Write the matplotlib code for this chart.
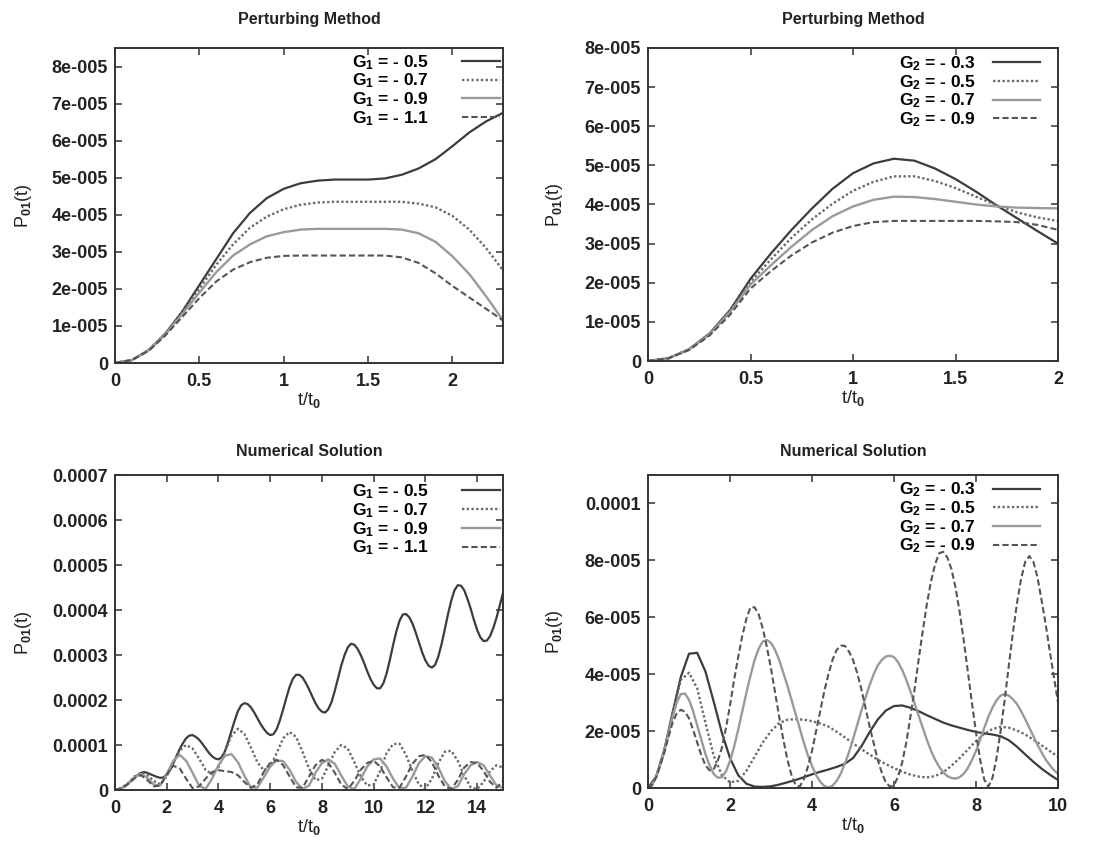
import matplotlib
matplotlib.use("Agg")
import matplotlib.pyplot as plt
from matplotlib import font_manager

# ---------------- data (probabilities) ----------------
# Top-left: Perturbing Method, G1 series (values in units of 1e-5)
t_tl = [0, 0.1, 0.2, 0.3, 0.4, 0.5, 0.6, 0.7, 0.8, 0.9, 1.0, 1.1, 1.2, 1.3, 1.4, 1.5,
        1.6, 1.7, 1.8, 1.9, 2.0, 2.1, 2.2, 2.3]
tl_g1_05 = [0, 0.08, 0.35, 0.8, 1.4, 2.1, 2.8, 3.5, 4.05, 4.45, 4.7, 4.85, 4.92, 4.95, 4.95,
            4.95, 4.98, 5.08, 5.25, 5.5, 5.85, 6.22, 6.52, 6.75]
tl_g1_07 = [0, 0.08, 0.35, 0.8, 1.38, 2.0, 2.65, 3.2, 3.65, 3.95, 4.15, 4.27, 4.33, 4.35, 4.35,
            4.35, 4.35, 4.35, 4.3, 4.2, 3.97, 3.6, 3.1, 2.5]
tl_g1_09 = [0, 0.08, 0.34, 0.78, 1.33, 1.9, 2.45, 2.9, 3.2, 3.42, 3.53, 3.6, 3.62, 3.62, 3.62,
            3.62, 3.62, 3.6, 3.5, 3.27, 2.88, 2.4, 1.8, 1.15]
tl_g1_11 = [0, 0.08, 0.33, 0.75, 1.25, 1.75, 2.2, 2.52, 2.72, 2.84, 2.89, 2.9, 2.9, 2.9, 2.9,
            2.9, 2.9, 2.85, 2.7, 2.42, 2.08, 1.77, 1.46, 1.15]

# Top-right: Perturbing Method, G2 series (units of 1e-5)
t_tr = [0, 0.1, 0.2, 0.3, 0.4, 0.5, 0.6, 0.7, 0.8, 0.9, 1.0, 1.1, 1.2, 1.3, 1.4, 1.5,
        1.6, 1.7, 1.8, 1.9, 2.0]
tr_g2_03 = [0, 0.07, 0.3, 0.7, 1.3, 2.1, 2.75, 3.35, 3.9, 4.4, 4.8, 5.05, 5.17, 5.12, 4.92,
            4.65, 4.33, 3.98, 3.65, 3.32, 3.0]
tr_g2_05 = [0, 0.07, 0.3, 0.7, 1.28, 2.02, 2.6, 3.15, 3.62, 4.02, 4.35, 4.58, 4.72, 4.72, 4.6,
            4.42, 4.2, 3.98, 3.8, 3.67, 3.58]
tr_g2_07 = [0, 0.07, 0.29, 0.68, 1.25, 1.95, 2.45, 2.92, 3.35, 3.7, 3.95, 4.12, 4.2, 4.19, 4.14,
            4.07, 4.0, 3.95, 3.92, 3.91, 3.9]
tr_g2_09 = [0, 0.07, 0.28, 0.65, 1.18, 1.85, 2.3, 2.7, 3.03, 3.28, 3.45, 3.55, 3.58, 3.58, 3.58,
            3.58, 3.58, 3.57, 3.55, 3.48, 3.35]

# Bottom-left: Numerical Solution, G1 series (units of 1e-4)
t_bl_fine = [0, 0.125, 0.25, 0.375, 0.5, 0.625, 0.75, 0.875, 1.0, 1.125, 1.25, 1.375, 1.5,
             1.625, 1.75, 1.875, 2.0, 2.125, 2.25, 2.375, 2.5, 2.625, 2.75, 2.875, 3.0, 3.125,
             3.25, 3.375, 3.5, 3.625, 3.75, 3.875, 4.0, 4.125, 4.25, 4.375, 4.5, 4.625, 4.75,
             4.875, 5.0, 5.125, 5.25, 5.375, 5.5, 5.625, 5.75, 5.875, 6.0, 6.125, 6.25, 6.375,
             6.5, 6.625, 6.75, 6.875, 7.0, 7.125, 7.25, 7.375, 7.5, 7.625, 7.75, 7.875, 8.0,
             8.125, 8.25, 8.375, 8.5, 8.625, 8.75, 8.875, 9.0, 9.125, 9.25, 9.375, 9.5, 9.625,
             9.75, 9.875, 10.0, 10.125, 10.25, 10.375, 10.5, 10.625, 10.75, 10.875, 11.0, 11.125,
             11.25, 11.375, 11.5, 11.625, 11.75, 11.875, 12.0, 12.125, 12.25, 12.375, 12.5,
             12.625, 12.75, 12.875, 13.0, 13.125, 13.25, 13.375, 13.5, 13.625, 13.75, 13.875,
             14.0, 14.125, 14.25, 14.375, 14.5, 14.625, 14.75, 14.875, 15.0]
bl_g1_05 = [0, 0.01, 0.04, 0.08, 0.14, 0.2, 0.27, 0.33, 0.38, 0.4, 0.38, 0.35, 0.32, 0.29, 0.27,
            0.28, 0.34, 0.44, 0.59, 0.75, 0.91, 1.04, 1.15, 1.21, 1.22, 1.18, 1.12, 1.03, 0.93,
            0.83, 0.75, 0.7, 0.68, 0.73, 0.86, 1.07, 1.31, 1.54, 1.75, 1.88, 1.93, 1.91, 1.84,
            1.73, 1.6, 1.47, 1.36, 1.27, 1.22, 1.24, 1.35, 1.55, 1.79, 2.05, 2.29, 2.47, 2.56,
            2.56, 2.5, 2.38, 2.24, 2.08, 1.93, 1.81, 1.74, 1.72, 1.8, 1.96, 2.21, 2.49, 2.77, 3.0,
            3.17, 3.25, 3.23, 3.14, 3.0, 2.83, 2.64, 2.47, 2.34, 2.26, 2.26, 2.37, 2.59, 2.89,
            3.22, 3.52, 3.76, 3.9, 3.91, 3.84, 3.7, 3.5, 3.28, 3.06, 2.88, 2.76, 2.72, 2.78, 2.97,
            3.24, 3.57, 3.91, 4.21, 4.44, 4.55, 4.54, 4.44, 4.25, 4.03, 3.78, 3.56, 3.39, 3.31,
            3.32, 3.42, 3.6, 3.83, 4.1, 4.38]

t_bl = [0, 0.25, 0.5, 0.75, 1.0, 1.25, 1.5, 1.75, 2.0, 2.25, 2.5, 2.75, 3.0, 3.25, 3.5, 3.75,
        4.0, 4.25, 4.5, 4.75, 5.0, 5.25, 5.5, 5.75, 6.0, 6.25, 6.5, 6.75, 7.0, 7.25, 7.5, 7.75,
        8.0, 8.25, 8.5, 8.75, 9.0, 9.25, 9.5, 9.75, 10.0, 10.25, 10.5, 10.75, 11.0, 11.25, 11.5,
        11.75, 12.0, 12.25, 12.5, 12.75, 13.0, 13.25, 13.5, 13.75, 14.0, 14.25, 14.5, 14.75, 15.0]
bl_g1_07 = [0, 0.04, 0.15, 0.3, 0.38, 0.33, 0.2, 0.13, 0.3, 0.6, 0.88, 1.0, 0.92, 0.7, 0.45,
            0.35, 0.5, 0.85, 1.2, 1.36, 1.25, 0.95, 0.62, 0.44, 0.52, 0.82, 1.15, 1.29, 1.18, 0.85,
            0.48, 0.22, 0.25, 0.55, 0.85, 1.0, 0.92, 0.62, 0.3, 0.1, 0.12, 0.42, 0.82, 1.02, 1.03,
            0.78, 0.42, 0.12, 0.03, 0.25, 0.6, 0.85, 0.87, 0.65, 0.32, 0.06, 0.02, 0.18, 0.42,
            0.55, 0.5]
bl_g1_09 = [0, 0.04, 0.14, 0.28, 0.36, 0.27, 0.12, 0.1, 0.35, 0.65, 0.78, 0.65, 0.38, 0.1, 0.02,
            0.25, 0.55, 0.76, 0.8, 0.62, 0.32, 0.06, 0.05, 0.28, 0.52, 0.66, 0.64, 0.45, 0.18,
            0.02, 0.1, 0.38, 0.6, 0.68, 0.58, 0.32, 0.08, 0.02, 0.25, 0.52, 0.68, 0.7, 0.52, 0.25,
            0.04, 0.05, 0.3, 0.6, 0.75, 0.72, 0.5, 0.2, 0.02, 0.08, 0.35, 0.55, 0.62, 0.55, 0.32,
            0.1, 0.05]
bl_g1_11 = [0, 0.04, 0.13, 0.26, 0.33, 0.22, 0.08, 0.1, 0.35, 0.54, 0.48, 0.25, 0.04, 0.08, 0.25,
            0.4, 0.44, 0.42, 0.4, 0.33, 0.18, 0.05, 0.12, 0.4, 0.6, 0.67, 0.55, 0.3, 0.06, 0.05,
            0.3, 0.55, 0.67, 0.6, 0.38, 0.12, 0.02, 0.2, 0.45, 0.6, 0.65, 0.52, 0.28, 0.06, 0.05,
            0.3, 0.58, 0.75, 0.78, 0.62, 0.32, 0.08, 0.02, 0.22, 0.5, 0.62, 0.6, 0.42, 0.18, 0.05,
            0.2]

# Bottom-right: Numerical Solution, G2 series (units of 1e-5)
t_br = [0, 0.2, 0.4, 0.6, 0.8, 1.0, 1.2, 1.4, 1.6, 1.8, 2.0, 2.2, 2.4, 2.6, 2.8, 3.0, 3.2, 3.4,
        3.6, 3.8, 4.0, 4.2, 4.4, 4.6, 4.8, 5.0, 5.2, 5.4, 5.6, 5.8, 6.0, 6.2, 6.4, 6.6, 6.8, 7.0,
        7.2, 7.4, 7.6, 7.8, 8.0, 8.2, 8.4, 8.6, 8.8, 9.0, 9.2, 9.4, 9.6, 9.8, 10.0]
br_g2_03 = [0, 0.4, 1.35, 2.65, 3.9, 4.72, 4.75, 4.1, 3.05, 1.95, 1.05, 0.45, 0.15, 0.05, 0.04,
            0.06, 0.12, 0.2, 0.28, 0.38, 0.48, 0.57, 0.65, 0.74, 0.85, 1.05, 1.45, 1.95, 2.4, 2.72,
            2.88, 2.9, 2.82, 2.7, 2.56, 2.43, 2.3, 2.2, 2.12, 2.04, 1.97, 1.92, 1.88, 1.82, 1.68,
            1.45, 1.18, 0.92, 0.68, 0.47, 0.28]
br_g2_05 = [0, 0.4, 1.33, 2.6, 3.8, 4.05, 3.5, 2.3, 1.15, 0.45, 0.2, 0.25, 0.6, 1.1, 1.6, 2.0,
            2.28, 2.4, 2.42, 2.4, 2.35, 2.27, 2.16, 1.98, 1.78, 1.57, 1.37, 1.18, 1.0, 0.84, 0.7,
            0.57, 0.47, 0.4, 0.37, 0.42, 0.55, 0.78, 1.05, 1.35, 1.65, 1.9, 2.07, 2.15, 2.12, 2.02,
            1.88, 1.7, 1.5, 1.3, 1.1]
t_br_fine = [0, 0.1, 0.2, 0.3, 0.4, 0.5, 0.6, 0.7, 0.8, 0.9, 1.0, 1.1, 1.2, 1.3, 1.4, 1.5, 1.6,
             1.7, 1.8, 1.9, 2.0, 2.1, 2.2, 2.3, 2.4, 2.5, 2.6, 2.7, 2.8, 2.9, 3.0, 3.1, 3.2, 3.3,
             3.4, 3.5, 3.6, 3.7, 3.8, 3.9, 4.0, 4.1, 4.2, 4.3, 4.4, 4.5, 4.6, 4.7, 4.8, 4.9, 5.0,
             5.1, 5.2, 5.3, 5.4, 5.5, 5.6, 5.7, 5.8, 5.9, 6.0, 6.1, 6.2, 6.3, 6.4, 6.5, 6.6, 6.7,
             6.8, 6.9, 7.0, 7.1, 7.2, 7.3, 7.4, 7.5, 7.6, 7.7, 7.8, 7.9, 8.0, 8.1, 8.2, 8.3, 8.4,
             8.5, 8.6, 8.7, 8.8, 8.9, 9.0, 9.1, 9.2, 9.3, 9.4, 9.5, 9.6, 9.7, 9.8, 9.9, 10.0]
br_g2_07 = [0, 0.1, 0.4, 0.82, 1.3, 1.92, 2.5, 3.0, 3.3, 3.32, 3.1, 2.7, 2.2, 1.7, 1.2, 0.8, 0.5,
            0.36, 0.38, 0.58, 0.95, 1.45, 2.05, 2.7, 3.35, 3.95, 4.5, 4.9, 5.15, 5.2, 5.1, 4.85,
            4.5, 4.05, 3.6, 3.1, 2.6, 2.1, 1.6, 1.15, 0.78, 0.45, 0.22, 0.07, 0.02, 0.08, 0.25,
            0.5, 0.85, 1.25, 1.72, 2.2, 2.7, 3.15, 3.6, 3.98, 4.3, 4.5, 4.62, 4.65, 4.6, 4.42,
            4.15, 3.8, 3.4, 2.98, 2.55, 2.12, 1.7, 1.32, 1.0, 0.75, 0.55, 0.42, 0.35, 0.33, 0.38,
            0.5, 0.7, 0.98, 1.3, 1.7, 2.1, 2.5, 2.82, 3.08, 3.25, 3.3, 3.25, 3.12, 2.95, 2.7, 2.42,
            2.12, 1.82, 1.52, 1.25, 1.0, 0.8, 0.63, 0.5]
br_g2_09 = [0, 0.1, 0.38, 0.8, 1.25, 1.8, 2.3, 2.62, 2.75, 2.68, 2.45, 2.05, 1.6, 1.15, 0.8,
            0.62, 0.65, 0.95, 1.4, 2.1, 2.9, 3.8, 4.6, 5.35, 5.95, 6.35, 6.35, 6.1, 5.6, 4.95,
            4.2, 3.35, 2.5, 1.7, 1.0, 0.45, 0.1, 0.05, 0.3, 0.75, 1.3, 2.0, 2.7, 3.4, 4.0, 4.5,
            4.85, 5.0, 5.0, 4.8, 4.5, 4.05, 3.5, 2.85, 2.2, 1.6, 1.0, 0.55, 0.2, 0.05, 0.1, 0.4,
            0.9, 1.6, 2.5, 3.45, 4.5, 5.5, 6.45, 7.25, 7.85, 8.25, 8.3, 8.1, 7.7, 7.05, 6.2, 5.2,
            4.1, 3.0, 1.95, 1.0, 0.3, 0.05, 0.35, 1.05, 2.0, 3.1, 4.3, 5.45, 6.5, 7.35, 7.95,
            8.15, 7.95, 7.4, 6.6, 5.75, 4.8, 3.9, 3.0]

labels_g1 = ["G$_1$ = - 0.5", "G$_1$ = - 0.7", "G$_1$ = - 0.9", "G$_1$ = - 1.1"]
labels_g2_top = ["G$_2$ = - 0.3", "G$_2$ = - 0.5", "G$_2$ = - 0.7", "G$_2$ = - 0.9"]
labels_g2_bot = ["G$_2$ = - 0.3", "G$_2$ = - 0.5", "G$_2$ = - 0.7", "G$_2$ = - 0.9"]

titles = ["Perturbing Method", "Perturbing Method", "Numerical Solution", "Numerical Solution"]

ticks_tl_x = [0, 0.5, 1, 1.5, 2]
ticklabels_tl_x = ["0", "0.5", "1", "1.5", "2"]
ticks_tl_y = [0, 1e-5, 2e-5, 3e-5, 4e-5, 5e-5, 6e-5, 7e-5, 8e-5]
ticklabels_tl_y = ["0", "1e-005", "2e-005", "3e-005", "4e-005", "5e-005", "6e-005", "7e-005", "8e-005"]
ticks_bl_x = [0, 2, 4, 6, 8, 10, 12, 14]
ticklabels_bl_x = ["0", "2", "4", "6", "8", "10", "12", "14"]
ticks_bl_y = [0, 1e-4, 2e-4, 3e-4, 4e-4, 5e-4, 6e-4, 7e-4]
ticklabels_bl_y = ["0", "0.0001", "0.0002", "0.0003", "0.0004", "0.0005", "0.0006", "0.0007"]
ticks_br_x = [0, 2, 4, 6, 8, 10]
ticklabels_br_x = ["0", "2", "4", "6", "8", "10"]
ticks_br_y = [0, 2e-5, 4e-5, 6e-5, 8e-5, 1e-4]
ticklabels_br_y = ["0", "2e-005", "4e-005", "6e-005", "8e-005", "0.0001"]

# ---------------- style ----------------
names = {f.name for f in font_manager.fontManager.ttflist}
narrow = "Liberation Sans Narrow" in names
fam = "Liberation Sans Narrow" if narrow else "Liberation Sans"
plt.rcParams["font.family"] = [fam, "DejaVu Sans"]
plt.rcParams["font.weight"] = "bold"
plt.rcParams["mathtext.fontset"] = "custom"
plt.rcParams["mathtext.rm"] = fam + ":bold"
plt.rcParams["mathtext.it"] = fam + ":bold"
plt.rcParams["mathtext.bf"] = fam + ":bold"
plt.rcParams["mathtext.default"] = "rm"

FS = 15.5 if narrow else 13
FS_LEG = 14.5 if narrow else 12.5
FS_T = 13.5 if narrow else 11.5

styles = [
    dict(color="#3c3c3c", lw=1.6, ls="-"),
    dict(color="#6a6a6a", lw=1.7, ls=(0, (1, 1))),
    dict(color="#9a9a9a", lw=1.7, ls="-"),
    dict(color="#555555", lw=1.5, ls=(0, (3, 1.5))),
]

W, H = 1096, 847
fig = plt.figure(figsize=(W / 100, H / 100), dpi=100)


def make_ax(l, r, t, b):
    return fig.add_axes([l / W, 1 - b / H, (r - l) / W, (b - t) / H])


ax_tl = make_ax(115, 503, 48, 363)
ax_tr = make_ax(648, 1058, 48, 361)
ax_bl = make_ax(115, 503, 475, 790)
ax_br = make_ax(648, 1058, 475, 788)

panels = [
    (ax_tl, [(t_tl, tl_g1_05), (t_tl, tl_g1_07), (t_tl, tl_g1_09), (t_tl, tl_g1_11)], 1e-5,
     labels_g1, (0, 2.3), (0, 8.5e-5), ticks_tl_x, ticklabels_tl_x, ticks_tl_y, ticklabels_tl_y,
     titles[0]),
    (ax_tr, [(t_tr, tr_g2_03), (t_tr, tr_g2_05), (t_tr, tr_g2_07), (t_tr, tr_g2_09)], 1e-5,
     labels_g2_top, (0, 2), (0, 8e-5), ticks_tl_x, ticklabels_tl_x, ticks_tl_y, ticklabels_tl_y,
     titles[1]),
    (ax_bl, [(t_bl_fine, bl_g1_05), (t_bl, bl_g1_07), (t_bl, bl_g1_09), (t_bl, bl_g1_11)], 1e-4,
     labels_g1, (0, 15), (0, 7e-4), ticks_bl_x, ticklabels_bl_x, ticks_bl_y, ticklabels_bl_y,
     titles[2]),
    (ax_br, [(t_br, br_g2_03), (t_br, br_g2_05), (t_br_fine, br_g2_07), (t_br_fine, br_g2_09)],
     1e-5, labels_g2_bot, (0, 10), (0, 1.1e-4), ticks_br_x, ticklabels_br_x, ticks_br_y,
     ticklabels_br_y, titles[3]),
]

# legend anchor (right, top) in axes coords, handle length, text-handle gap
leg_cfg = [
    ((0.992, 0.984), 2.2, 1.9),
    ((0.956, 0.98), 2.7, 1.0),
    ((0.992, 0.976), 2.2, 1.9),
    ((0.956, 0.982), 2.7, 1.0),
]

for i, (ax, series, unit, labs, xl, yl, xt, xtl, yt, ytl, title) in enumerate(panels):
    for (t, s), lab, st in zip(series, labs, styles):
        ax.plot(t, [v * unit for v in s], label=lab, **st)
    ax.set_xlim(*xl)
    ax.set_ylim(*yl)
    ax.set_xticks(xt)
    ax.set_xticklabels(xtl)
    ax.set_yticks(yt)
    ax.set_yticklabels(ytl)
    ax.tick_params(direction="in", top=True, right=True, length=5, width=1.1,
                   labelsize=FS, color="#333333", labelcolor="#222222")
    ax.tick_params(axis="x", pad=7)
    ax.tick_params(axis="y", pad=5)
    for sp in ax.spines.values():
        sp.set_linewidth(1.4)
        sp.set_color("#333333")
    ax.set_title(title, fontsize=FS_T, fontweight="bold", pad=17 if i < 2 else 14,
                 color="#222222")
    ax.set_xlabel("t/t$_0$", fontsize=FS, color="#222222")
    ax.set_ylabel("P$_{01}$(t)", fontsize=FS, color="#222222")
    ax.xaxis.set_label_coords(0.5, -0.085)
    ax.yaxis.set_label_coords(-0.208 if i in (0, 2) else -0.203, 0.5)
    anchor, hl, htp = leg_cfg[i]
    ax.legend(loc="upper right", bbox_to_anchor=anchor, frameon=False,
              markerfirst=False, fontsize=FS_LEG, handlelength=hl, labelspacing=0.0,
              borderaxespad=0.0, borderpad=0.0, handletextpad=htp)

fig.savefig("out.png", dpi=100)
